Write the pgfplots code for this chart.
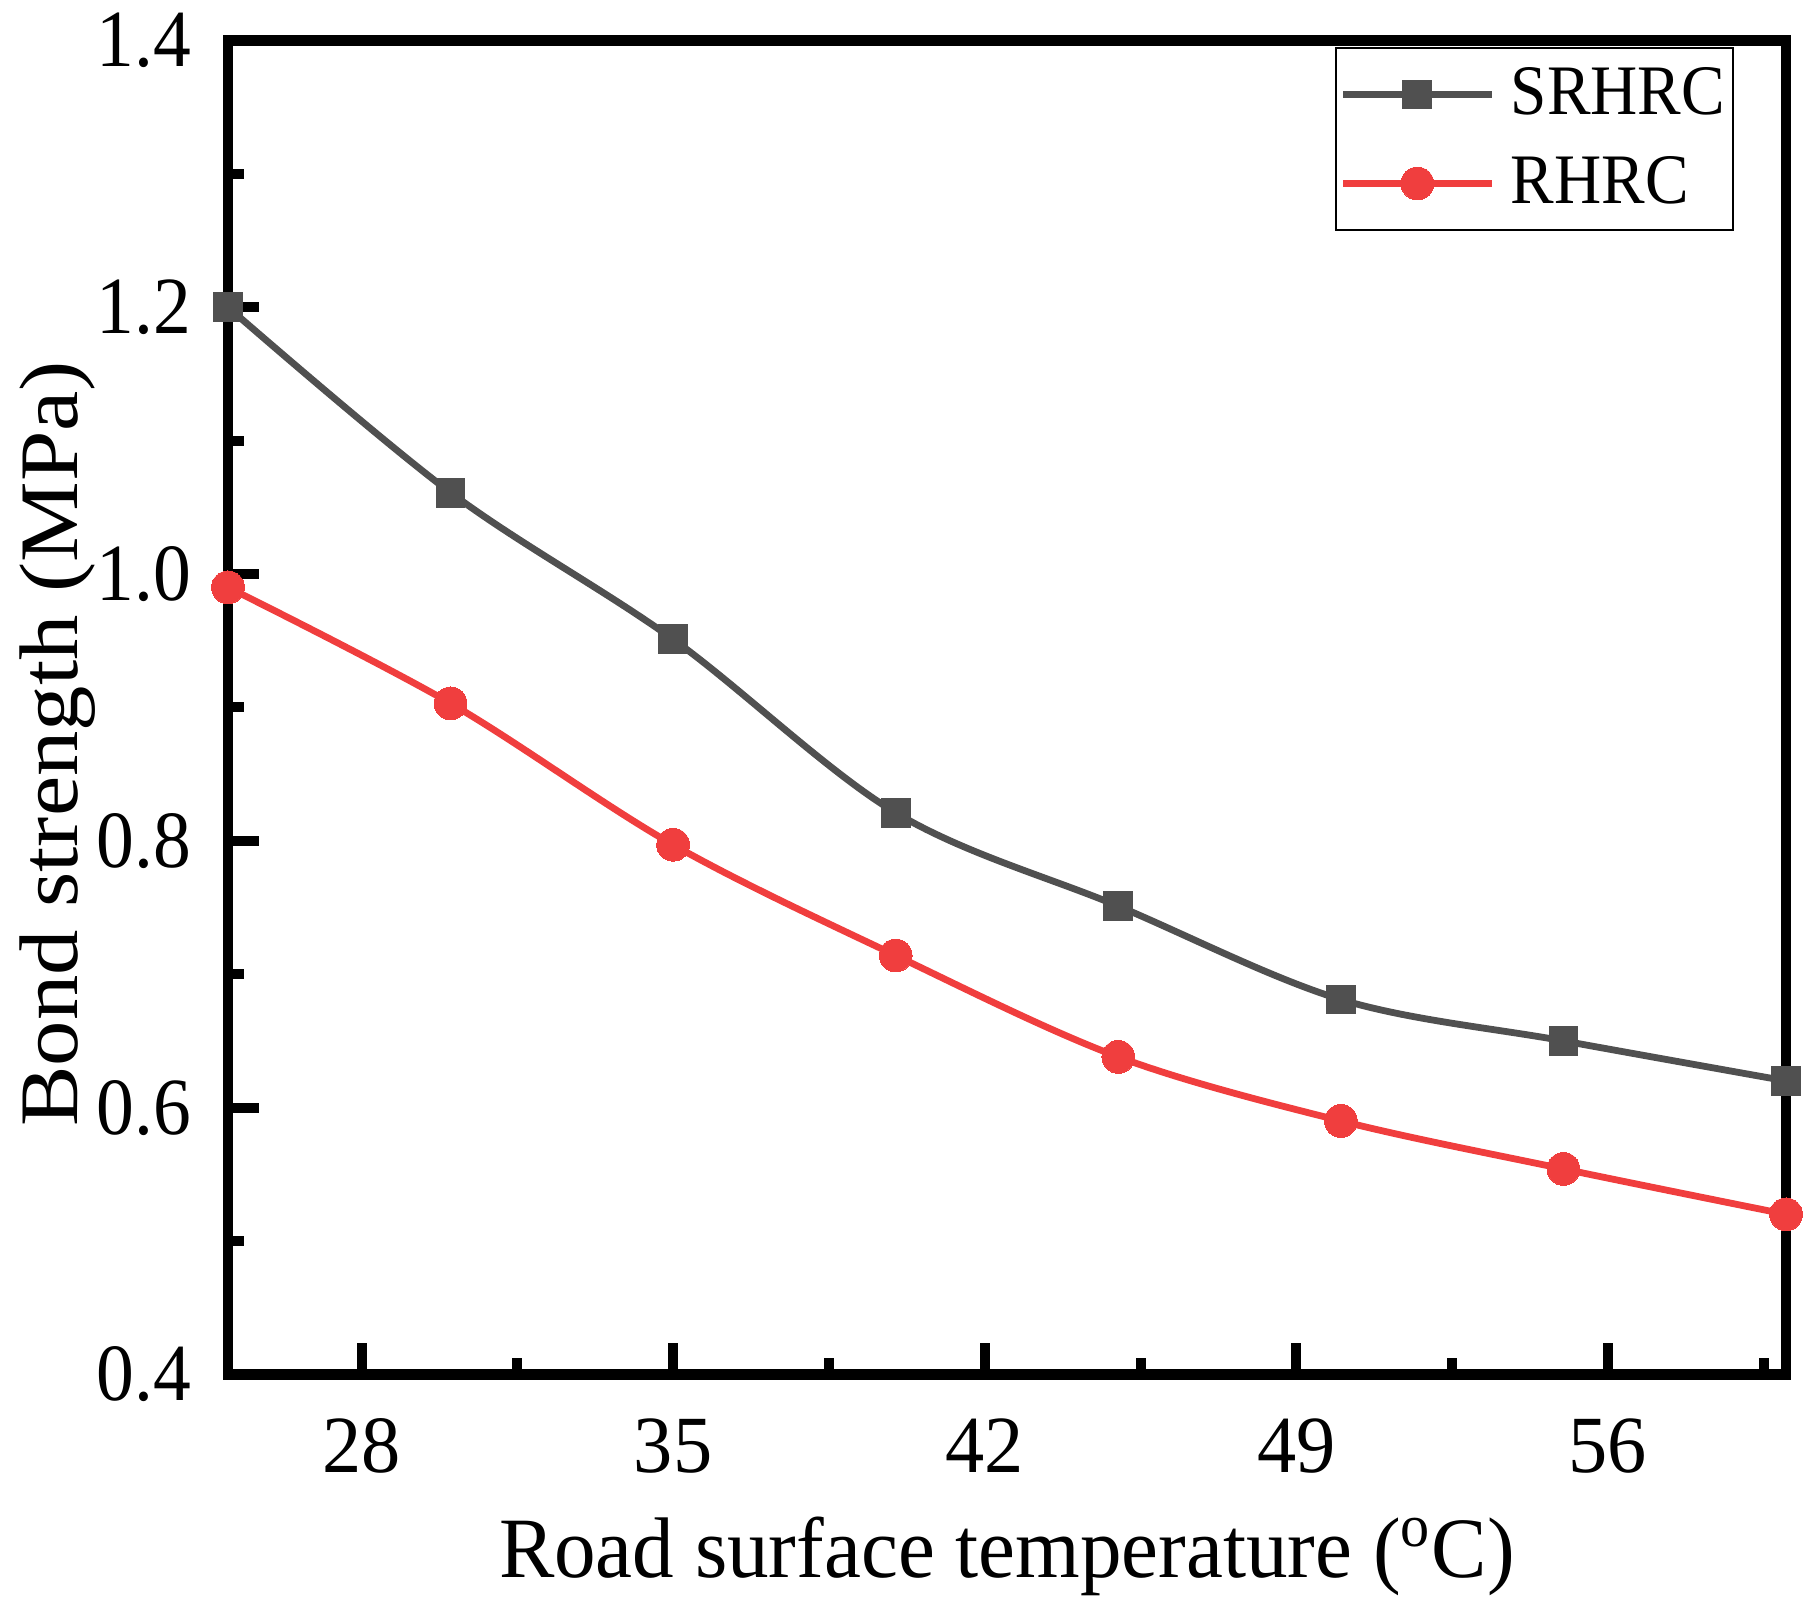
\documentclass[border=0pt]{standalone}
\usepackage{fontspec}
\setmainfont{Liberation Serif}
\newfontfamily\tickfont{Liberation Serif}[FakeStretch=0.965]
\newfontfamily\ytickfont{Liberation Serif}[FakeStretch=0.93]
\newfontfamily\xlabfont{Liberation Serif}[FakeStretch=0.966]
\newfontfamily\ylabfont{Liberation Serif}[FakeStretch=1.09]
\newfontfamily\legfont{Liberation Serif}[FakeStretch=0.92]
\usepackage{pgfplots}
\pgfplotsset{compat=1.18}
\definecolor{sgray}{RGB}{80,80,80}
\definecolor{sred}{RGB}{240,62,62}
\begin{document}
\begin{tikzpicture}
\useasboundingbox (0,0) rectangle (455pt,403.5pt);
\begin{axis}[
  at={(57pt,59.9pt)}, anchor=south west,
  scale only axis, width=389.5pt, height=333.5pt,
  xmin=25, xmax=60, ymin=0.4, ymax=1.4,
  clip=false,
  xtick={28,35,42,49,56},
  minor xtick={31.5,38.5,45.5,52.5,59.5},
  ytick={0.4,0.6,0.8,1.0,1.2,1.4},
  minor ytick={0.5,0.7,0.9,1.1,1.3},
  tick pos=left, tick align=inside,
  major tick length=7.75pt, minor tick length=4pt,
  every tick/.style={black, line width=2.5pt},
  axis line style={black, line width=2.6pt},
  /pgf/number format/assume math mode=true,
  yticklabel style={/pgf/number format/fixed, /pgf/number format/fixed zerofill, /pgf/number format/precision=1},
  tick label style={inner sep=0pt},
  xticklabel style={font=\tickfont\fontsize{20.3}{24}\selectfont, anchor=base, yshift=-24.65pt},
  yticklabel style={font=\ytickfont\fontsize{20.3}{24}\selectfont, anchor=east, xshift=-9pt},
  xlabel={Road surface temperature (\textsuperscript{o}C)},
  ylabel={Bond strength (MPa)},
  xlabel style={font=\xlabfont\fontsize{21.5}{25}\selectfont, at={(axis description cs:0.5,-0.1519)}, anchor=base},
  ylabel style={font=\ylabfont\fontsize{20.8}{25}\selectfont, at={(axis description cs:-0.0963,0.4726)}, anchor=base},
  legend style={at={(axis description cs:0.9666,0.99505)}, anchor=north east,
    draw=black, line width=0.5pt, inner xsep=1pt, inner ysep=4pt,
    font=\legfont\fontsize{17.75}{20}\selectfont, row sep=7pt, column sep=3pt,
    nodes={inner sep=1pt}},
  legend cell align=left,
  every axis plot/.append style={line width=1.7pt,
    legend image code/.code={\draw[mark repeat=2,mark phase=2,##1] plot coordinates {(0pt,0pt) (18.5pt,0pt) (37pt,0pt)};}},
]
\addplot[sgray, smooth, tension=0.55, mark=square*, mark size=3.6pt, mark options={solid, fill=sgray, draw=sgray, line width=0pt}]
  coordinates {(25,1.20) (30,1.061) (35,0.951) (40,0.821) (45,0.751) (50,0.681) (55,0.650) (60,0.620)};
\addlegendentry{SRHRC}
\addplot[sred, smooth, tension=0.55, mark=*, mark size=4.1pt, mark options={solid, fill=sred, draw=sred, line width=0pt}]
  coordinates {(25,0.99) (30,0.903) (35,0.797) (40,0.714) (45,0.638) (50,0.590) (55,0.554) (60,0.520)};
\addlegendentry{RHRC}
\end{axis}
\end{tikzpicture}
\end{document}
